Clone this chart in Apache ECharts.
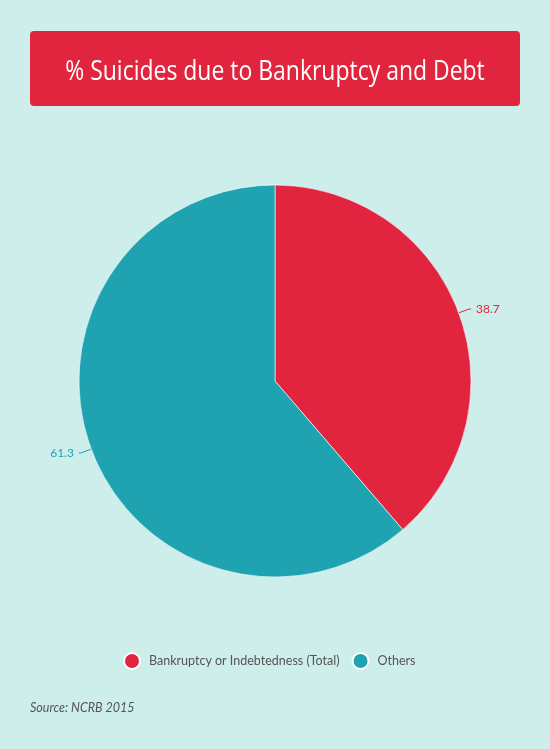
<!DOCTYPE html>
<html><head><meta charset="utf-8">
<script src="https://cdn.jsdelivr.net/npm/echarts@6/dist/echarts.min.js"></script>
<style>html,body{margin:0;padding:0;background:#cdeeea;}#c{width:550px;height:749px;}</style>
</head><body><div id="c"></div>
<script>
var titleText = '% Suicides due to Bankruptcy and Debt';
var sourceText = 'Source: NCRB 2015';
var categories = ['Bankruptcy or Indebtedness (Total)', 'Others'];
var values = [38.7, 61.3];
var colors = ['#e2253f', '#1fa3b0'];

var chart = echarts.init(document.getElementById('c'));
chart.setOption({
  backgroundColor: '#cdeeea',
  animation: false,
  color: colors,
  graphic: [
    {type: 'rect', left: 30, top: 31, shape: {width: 490, height: 75, r: 4}, style: {fill: '#e2253f'}},
    {type: 'text', x: 275, y: 72, scaleX: 0.82, style: {text: titleText, x: 0, y: 0, textAlign: 'center', textVerticalAlign: 'middle', fill: '#ffffff', font: '28px "Open Sans", sans-serif'}},
    {type: 'text', left: 30, top: 701, style: {text: sourceText, fill: '#555555', font: 'italic 12.5px Lato, sans-serif'}}
  ],
  legend: {
    bottom: 74, left: 118, icon: 'circle', itemWidth: 16, itemHeight: 16, itemGap: 12,
    textStyle: {color: '#555555', fontSize: 12.5, fontFamily: 'Lato', padding: [0, 0, 0, 4]},
    data: categories
  },
  series: [{
    type: 'pie', center: [275, 381], radius: 196, startAngle: 90, clockwise: true,
    itemStyle: {borderColor: '#ffffff', borderWidth: 0.6},
    label: {show: true, formatter: '{c}', fontSize: 12, fontFamily: 'Lato'},
    labelLine: {show: true, length: 11, length2: 2, lineStyle: {width: 1}},
    data: categories.map(function(n, i){ return {name: n, value: values[i], label: {color: colors[i]}}; })
  }]
});
</script></body></html>
